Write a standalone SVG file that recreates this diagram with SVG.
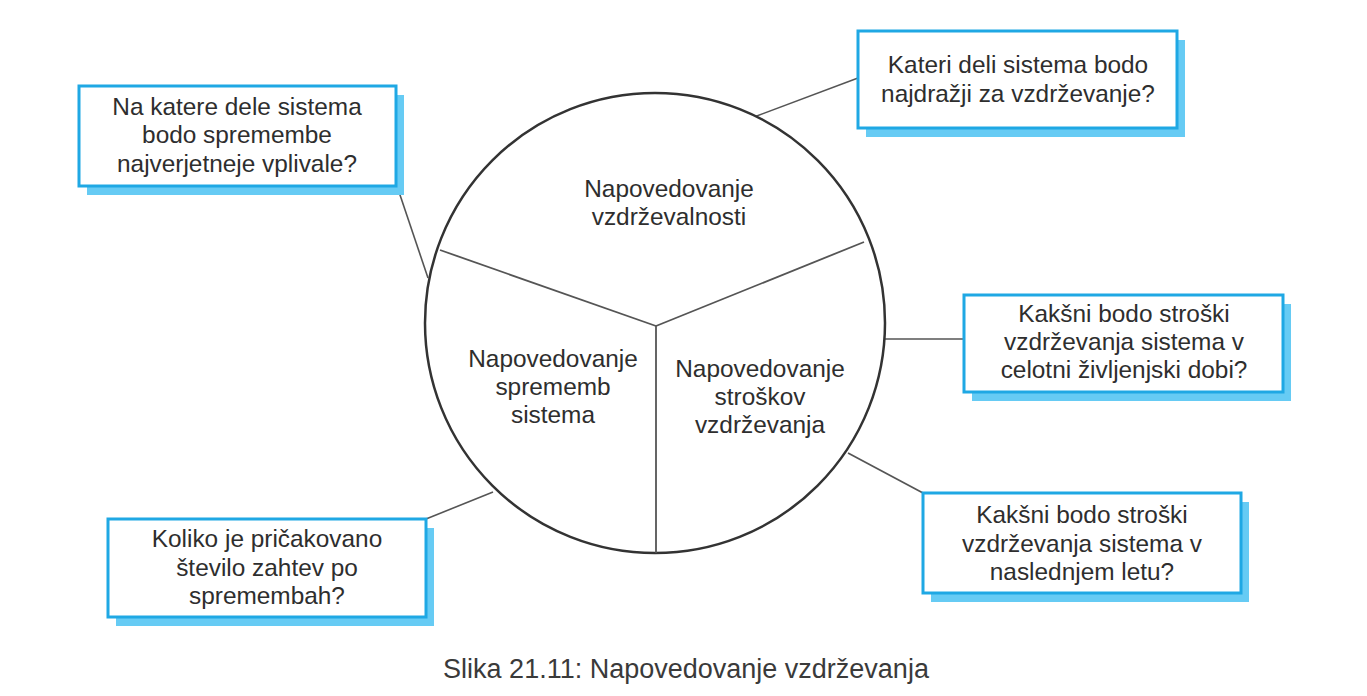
<svg xmlns="http://www.w3.org/2000/svg" width="1367" height="696" viewBox="0 0 1367 696">
<style>
.shadow{fill:#66CBF4;}
.box{fill:#ffffff;stroke:#1FA8E4;stroke-width:3;}
.t{font-family:"Liberation Sans",Arial,Helvetica,sans-serif;font-size:24.4px;fill:#2e2e2e;text-anchor:middle;}
.cap{font-family:"Liberation Sans",Arial,Helvetica,sans-serif;font-size:27px;fill:#3a3a3a;text-anchor:middle;}
.conn{stroke:#555555;stroke-width:1.6;fill:none;}
.div{stroke:#555555;stroke-width:1.8;fill:none;}
</style>
<rect width="1367" height="696" fill="#ffffff"/>
<g id="connectors">
<line class="conn" x1="397" y1="186" x2="428" y2="278"/>
<line class="conn" x1="858" y1="78" x2="754" y2="117"/>
<line class="conn" x1="885" y1="339" x2="964" y2="339"/>
<line class="conn" x1="426" y1="519" x2="493" y2="492"/>
<line class="conn" x1="848" y1="453" x2="923" y2="493"/>
</g>
<g id="circle">
<circle cx="655" cy="323" r="230" fill="#ffffff" stroke="#333333" stroke-width="2.5"/>
<line class="div" x1="656" y1="326" x2="440" y2="250"/>
<line class="div" x1="656" y1="326" x2="864" y2="242"/>
<line class="div" x1="656" y1="326" x2="656" y2="553"/>
<text class="t" x="669" y="197">Napovedovanje</text>
<text class="t" x="669" y="225">vzdrževalnosti</text>
<text class="t" x="553" y="367">Napovedovanje</text>
<text class="t" x="553" y="395">sprememb</text>
<text class="t" x="553" y="423">sistema</text>
<text class="t" x="760" y="377">Napovedovanje</text>
<text class="t" x="760" y="405">stroškov</text>
<text class="t" x="760" y="433">vzdrževanja</text>
</g>
<g id="box1">
<rect class="shadow" x="87" y="95" width="317" height="100"/>
<rect class="box" x="79" y="86" width="317" height="100"/>
<text class="t" x="237" y="115">Na katere dele sistema</text>
<text class="t" x="237" y="143">bodo spremembe</text>
<text class="t" x="237" y="172">najverjetneje vplivale?</text>
</g>
<g id="box2">
<rect class="shadow" x="866" y="40" width="319" height="97"/>
<rect class="box" x="858" y="31" width="319" height="97"/>
<text class="t" x="1018" y="73">Kateri deli sistema bodo</text>
<text class="t" x="1018" y="102">najdražji za vzdrževanje?</text>
</g>
<g id="box3">
<rect class="shadow" x="972" y="304" width="319" height="97"/>
<rect class="box" x="964" y="295" width="319" height="97"/>
<text class="t" x="1124" y="322">Kakšni bodo stroški</text>
<text class="t" x="1124" y="350">vzdrževanja sistema v</text>
<text class="t" x="1124" y="378">celotni življenjski dobi?</text>
</g>
<g id="box4">
<rect class="shadow" x="116" y="528" width="318" height="98"/>
<rect class="box" x="108" y="519" width="318" height="98"/>
<text class="t" x="267" y="547">Koliko je pričakovano</text>
<text class="t" x="267" y="576">število zahtev po</text>
<text class="t" x="267" y="604">spremembah?</text>
</g>
<g id="box5">
<rect class="shadow" x="931" y="502" width="318" height="100"/>
<rect class="box" x="923" y="493" width="318" height="100"/>
<text class="t" x="1082" y="523">Kakšni bodo stroški</text>
<text class="t" x="1082" y="552">vzdrževanja sistema v</text>
<text class="t" x="1082" y="580">naslednjem letu?</text>
</g>
<g id="caption">
<text class="cap" x="686" y="678">Slika 21.11: Napovedovanje vzdrževanja</text>
</g>
</svg>
